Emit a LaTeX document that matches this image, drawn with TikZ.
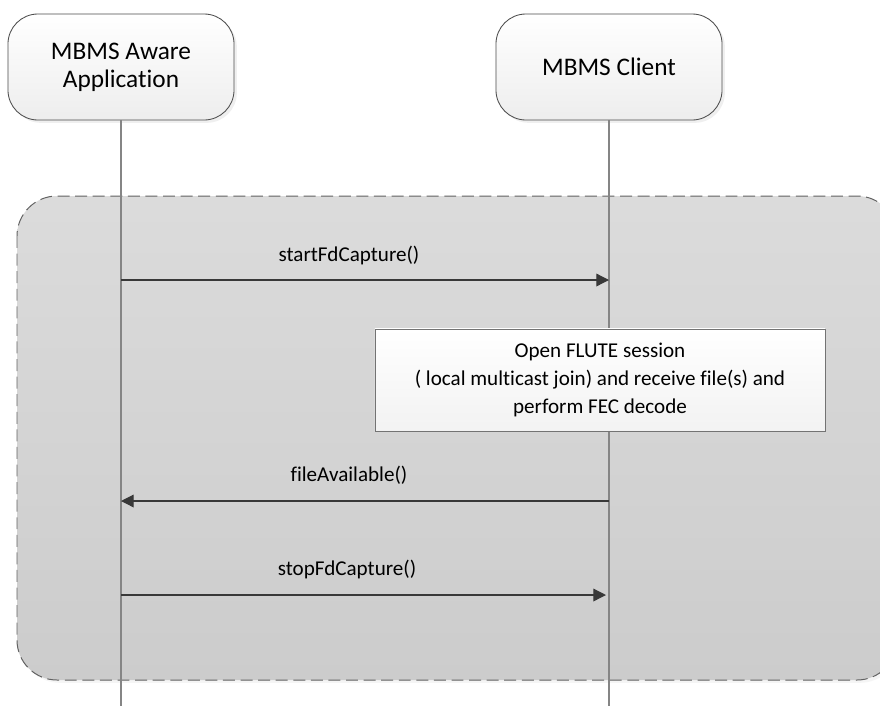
\documentclass[tikz,border=0pt]{standalone}
\usepackage{fontspec}
\setmainfont{Carlito}[Ligatures=NoCommon]
\usetikzlibrary{arrows.meta,shadows}

\begin{document}
\begin{tikzpicture}[x=0.025cm,y=-0.025cm,
  actor/.style={draw=black!70,line width=0.6pt,rounded corners=0.75cm,
    top color=white,bottom color=black!7,minimum width=5.65cm,minimum height=2.65cm,
    align=center,font=\fontsize{18}{20}\selectfont,
    drop shadow={opacity=0.12,shadow xshift=2pt,shadow yshift=-2pt}},
  frame/.style={draw=black!62,line width=0.7pt,dash pattern=on 8.5pt off 4pt,
    rounded corners=1cm,top color=black!14,bottom color=black!20,
    drop shadow={opacity=0.08,shadow xshift=2pt,shadow yshift=-2pt}},
  life/.style={draw=black!48,line width=1.2pt},
  note/.style={draw=black!55,line width=0.6pt,top color=white,bottom color=black!5,
    minimum width=11.25cm,minimum height=2.55cm,align=center,
    font=\fontsize{15}{20}\selectfont},
  msg/.style={draw=black!78,line width=0.9pt,-{Triangle[length=9pt,width=9pt]}},
  lbl/.style={font=\fontsize{15}{18}\selectfont}]
\clip (0,0) rectangle (880,706);
\useasboundingbox (0,0) rectangle (880,706);
\fill[white] (0,0) rectangle (880,706);
\draw[frame] (17,196) rectangle (897,680);
\node[actor] (app) at (121,67) {MBMS Aware\\Application};
\node[actor] (client) at (609,67) {MBMS Client};
\coordinate (appEnd) at (121,706);
\coordinate (clientEnd) at (609,706);
\draw[life] (app.south) -- (appEnd);
\draw[life] (client.south) -- (clientEnd);
\node[note] (flute) at (600,380) {Open FLUTE session\\( local multicast join) and receive file(s) and\\perform FEC decode};
\coordinate (s1) at (121,280);
\coordinate (s2) at (609,280);
\coordinate (f1) at (609,501);
\coordinate (f2) at (121,501);
\coordinate (t1) at (121,595);
\coordinate (t2) at (606,595);
\draw[msg] (s1) -- (s2);
\draw[msg] (f1) -- (f2);
\draw[msg] (t1) -- (t2);
\node[lbl] (lstart) at (349,255) {startFdCapture()};
\node[lbl] (lfile) at (349,475) {fileAvailable()};
\node[lbl] (lstop) at (347,569) {stopFdCapture()};
\end{tikzpicture}
\end{document}
